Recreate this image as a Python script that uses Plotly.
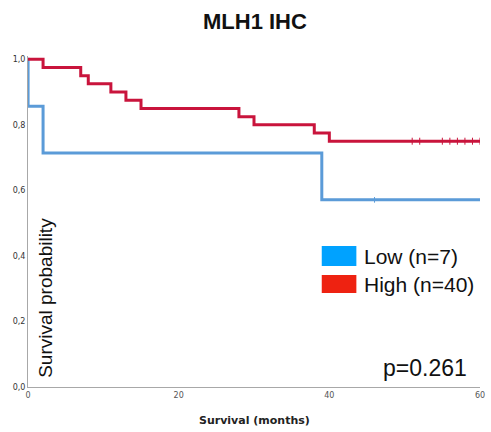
import plotly.graph_objects as go

# ---- data ----
high_times = [0, 2, 7, 8, 11, 13, 15, 28, 30, 38, 40, 60]
high_surv = [1.0, 0.975, 0.95, 0.925, 0.9, 0.875, 0.85, 0.825, 0.8, 0.775, 0.75, 0.75]
high_censor_times = [51, 52, 55, 56, 57, 58, 59, 60]
high_censor_surv = [0.75] * 8

low_times = [0, 0.01, 2, 39, 60]
low_surv = [1.0, 0.857, 0.714, 0.571, 0.571]
low_censor_times = [46]
low_censor_surv = [0.571]

x_ticks = [0, 20, 40, 60]
x_ticktext = ["0", "20", "40", "60"]
y_ticks = [0.0, 0.2, 0.4, 0.6, 0.8, 1.0]
y_ticktext = ["0,0", "0,2", "0,4", "0,6", "0,8", "1,0"]

legend_labels = ["Low (n=7)", "High (n=40)"]
legend_colors = ["#00A2FF", "#EE2211"]
p_text = "p=0.261"

RED = "#C9143C"
BLUE = "#5B9BD8"
FONT = "Liberation Sans"

W, H = 491, 432
ML, MR, MT, MB = 28, 6, 56, 45
PW, PH = W - ML - MR, H - MT - MB


def px(x):
    return (x - ML) / PW


def py(y):
    return (H - MB - y) / PH


fig = go.Figure()
fig.add_trace(go.Scatter(x=low_times, y=low_surv, mode="lines", line=dict(color=BLUE, width=3, shape="hv"),
                         showlegend=False, hoverinfo="skip"))
fig.add_trace(go.Scatter(x=high_times, y=high_surv, mode="lines", line=dict(color=RED, width=3, shape="hv"),
                         showlegend=False, hoverinfo="skip"))
fig.add_trace(go.Scatter(x=high_censor_times, y=high_censor_surv, mode="markers",
                         marker=dict(symbol="line-ns", size=5, line=dict(color=RED, width=1)),
                         showlegend=False, hoverinfo="skip"))
fig.add_trace(go.Scatter(x=low_censor_times, y=low_censor_surv, mode="markers",
                         marker=dict(symbol="line-ns", size=4, line=dict(color=BLUE, width=1)),
                         showlegend=False, hoverinfo="skip"))

shapes = []
annotations = []
box_rows = [(246, 266), (275, 293)]
for (y0, y1), lab, col in zip(box_rows, legend_labels, legend_colors):
    shapes.append(dict(type="rect", xref="paper", yref="paper", x0=px(325), x1=px(360), y0=py(y1), y1=py(y0),
                       fillcolor=col, line=dict(width=0)))
    annotations.append(dict(text=lab, xref="paper", yref="paper", x=px(366), y=py((y0 + y1) / 2),
                            xanchor="left", yanchor="middle", showarrow=False,
                            font=dict(family=FONT, size=21, color="#111")))

annotations.append(dict(text=p_text, xref="paper", yref="paper", x=px(474), y=py(368), xanchor="right",
                        yanchor="middle", showarrow=False,
                        font=dict(family=FONT, size=23, color="#111")))
annotations.append(dict(text="Survival probability", xref="paper", yref="paper", x=px(45), y=py(298),
                        xanchor="center", yanchor="middle", textangle=-90, showarrow=False,
                        font=dict(family=FONT, size=19, color="#111")))
annotations.append(dict(text="<b>MLH1 IHC</b>", xref="paper", yref="paper", x=px(258), y=py(21),
                        xanchor="center", yanchor="middle", showarrow=False,
                        font=dict(family=FONT, size=22, color="#111")))
annotations.append(dict(text="<b>Survival (months)</b>", xref="paper", yref="paper", x=px(257), y=py(420),
                        xanchor="center", yanchor="middle", showarrow=False,
                        font=dict(family="DejaVu Sans", size=11, color="#222")))

fig.update_layout(
    width=W, height=H,
    margin=dict(l=ML, r=MR, t=MT, b=MB),
    plot_bgcolor="white", paper_bgcolor="white",
    shapes=shapes, annotations=annotations,
    xaxis=dict(range=[0, 60], tickvals=x_ticks, ticktext=x_ticktext, showgrid=False, zeroline=False,
               showline=True, linecolor="#A8A8A8", linewidth=1, ticks="",
               tickfont=dict(family="DejaVu Sans", size=8, color="#555")),
    yaxis=dict(range=[0, 1.01], tickvals=y_ticks, ticktext=y_ticktext, showgrid=False, zeroline=False,
               showline=True, linecolor="#A8A8A8", linewidth=1, ticks="",
               tickfont=dict(family="DejaVu Sans", size=8, color="#333")),
)

fig.write_html("out.html")
